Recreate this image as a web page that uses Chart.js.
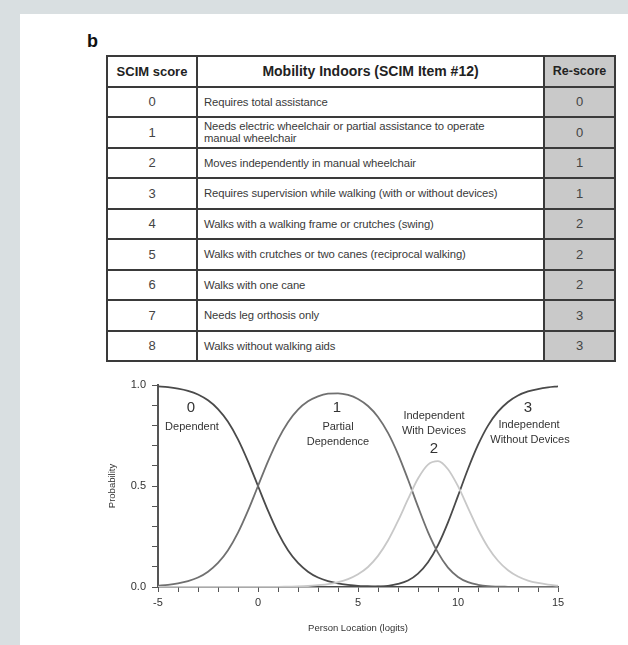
<!DOCTYPE html>
<html>
<head>
<meta charset="utf-8">
<script src="https://cdn.jsdelivr.net/npm/chart.js@4"></script>
<style>
    html, body { margin: 0; padding: 0; }
    body { width: 628px; height: 645px; background: #d9dfe1; position: relative; overflow: hidden;
           font-family: 'Liberation Sans', Arial, sans-serif; }
    #panel { position: absolute; left: 20px; top: 14px; right: 0; bottom: 0; background: #fff; }
    #tag { position: absolute; left: 87px; top: 31px; font-size: 18px; font-weight: bold; color: #111; }
    table { position: absolute; left: 106px; top: 55px; width: 508px; border-collapse: collapse; table-layout: fixed; }
    th, td { border: 2px solid #3a3a3a; padding: 0; }
    tr { height: 30.5px; }
    th { font-size: 13px; color: #222; }
    td.score { text-align: center; font-size: 13px; color: #444; }
    td.desc  { font-size: 11.3px; color: #3a3a3a; padding-left: 6px; line-height: 12px; letter-spacing: -0.1px; }
    .rs { background: #c9c9c9; text-align: center; font-size: 13px; color: #444; }
    th.rs { font-size: 12.5px; color: #222; }
    #chart { position: absolute; left: 90px; top: 370px; }
</style>
</head>
<body>
<div id="panel"></div>
<div id="tag">b</div>
<table>
    <colgroup><col style="width:90px"><col style="width:347px"><col style="width:71px"></colgroup>
    <thead>
        <tr><th>SCIM score</th><th style="font-size:14px">Mobility Indoors (SCIM Item #12)</th><th class="rs">Re-score</th></tr>
    </thead>
    <tbody id="rows"></tbody>
</table>
<canvas id="chart" width="500" height="270"></canvas>

<script>
// ─── 表のデータ ───
const scimScores = [0, 1, 2, 3, 4, 5, 6, 7, 8];
const descriptions = [
    'Requires total assistance',
    'Needs electric wheelchair or partial assistance to operate<br>manual wheelchair',
    'Moves independently in manual wheelchair',
    'Requires supervision while walking (with or without devices)',
    'Walks with a walking frame or crutches (swing)',
    'Walks with crutches or two canes (reciprocal walking)',
    'Walks with one cane',
    'Needs leg orthosis only',
    'Walks without walking aids',
];
const reScores = [0, 0, 1, 1, 2, 2, 2, 3, 3];

// ─── グラフのデータ ───
const logits = [-5, -4.5, -4, -3.5, -3, -2.5, -2, -1.5, -1, -0.5, 0, 0.5, 1, 1.5, 2, 2.5, 3, 3.5, 4, 4.5,
                5, 5.5, 6, 6.5, 7, 7.5, 8, 8.5, 9, 9.5, 10, 10.5, 11, 11.5, 12, 12.5, 13, 13.5, 14, 14.5, 15];
const pDependent = [0.993, 0.989, 0.982, 0.971, 0.953, 0.924, 0.881, 0.818, 0.731, 0.622, 0.5, 0.378, 0.269, 0.182,
                    0.119, 0.076, 0.047, 0.029, 0.018, 0.011, 0.006, 0.004, 0.002, 0.001, 0.001, 0, 0, 0, 0, 0,
                    0, 0, 0, 0, 0, 0, 0, 0, 0, 0, 0];
const pPartial = [0.007, 0.011, 0.018, 0.029, 0.047, 0.076, 0.119, 0.182, 0.269, 0.378, 0.5, 0.622, 0.730, 0.816,
                  0.878, 0.919, 0.944, 0.957, 0.959, 0.951, 0.931, 0.896, 0.842, 0.763, 0.658, 0.532, 0.398, 0.272,
                  0.170, 0.096, 0.050, 0.024, 0.011, 0.004, 0.002, 0.001, 0, 0, 0, 0, 0];
const pWithDevices = [0, 0, 0, 0, 0, 0, 0, 0, 0, 0, 0, 0.001, 0.001, 0.002, 0.003, 0.005, 0.009, 0.014, 0.024,
                      0.039, 0.063, 0.099, 0.154, 0.230, 0.327, 0.435, 0.537, 0.606, 0.623, 0.583, 0.499, 0.392,
                      0.286, 0.197, 0.130, 0.083, 0.052, 0.032, 0.020, 0.012, 0.007];
const pWithoutDevices = [0, 0, 0, 0, 0, 0, 0, 0, 0, 0, 0, 0, 0, 0, 0, 0, 0, 0, 0, 0, 0, 0.001, 0.003, 0.006,
                         0.015, 0.032, 0.066, 0.122, 0.207, 0.320, 0.451, 0.584, 0.703, 0.799, 0.868, 0.916,
                         0.948, 0.968, 0.980, 0.988, 0.993];

// 曲線のラベル（データ座標）
const curveLabels = [
    { x: -3.35, y: 0.886, text: '0', size: 15 },
    { x: -3.3,  y: 0.79,  text: 'Dependent', size: 11 },
    { x: 3.95,  y: 0.886, text: '1', size: 15 },
    { x: 4.0,   y: 0.79,  text: 'Partial', size: 11 },
    { x: 4.0,   y: 0.72,  text: 'Dependence', size: 11 },
    { x: 8.8,   y: 0.847, text: 'Independent', size: 11 },
    { x: 8.8,   y: 0.774, text: 'With Devices', size: 11 },
    { x: 8.8,   y: 0.683, text: '2', size: 15 },
    { x: 13.5,  y: 0.888, text: '3', size: 15 },
    { x: 13.55, y: 0.80,  text: 'Independent', size: 11 },
    { x: 13.6,  y: 0.728, text: 'Without Devices', size: 11 },
];

// ─── 表の生成 ───
const tbody = document.getElementById('rows');
scimScores.forEach((s, i) => {
    const tr = document.createElement('tr');
    tr.innerHTML = `<td class="score">${s}</td><td class="desc">${descriptions[i]}</td><td class="rs">${reScores[i]}</td>`;
    tbody.appendChild(tr);
});

// ─── ラベル描画プラグイン ───
const labelPlugin = {
    id: 'curveLabels',
    afterDatasetsDraw(chart) {
        const { ctx, scales: { x, y } } = chart;
        ctx.save();
        ctx.fillStyle = '#333';
        ctx.textAlign = 'center';
        ctx.textBaseline = 'middle';
        curveLabels.forEach(l => {
            ctx.font = `${l.size}px 'Liberation Sans', Arial, sans-serif`;
            ctx.fillText(l.text, x.getPixelForValue(l.x), y.getPixelForValue(l.y));
        });
        ctx.restore();
    },
};

const toPoints = (ys) => logits.map((v, i) => ({ x: v, y: ys[i] }));
const lineStyle = (color) => ({
    borderColor: color, borderWidth: 1.8, pointRadius: 0, fill: false,
    cubicInterpolationMode: 'monotone',
});

const tickFont = { family: "'Liberation Sans', Arial, sans-serif", size: 11 };

new Chart(document.getElementById('chart').getContext('2d'), {
    type: 'line',
    data: {
        datasets: [
            { data: toPoints(pWithDevices),    ...lineStyle('#c8c8c8') },
            { data: toPoints(pPartial),        ...lineStyle('#707070') },
            { data: toPoints(pDependent),      ...lineStyle('#4a4a4a') },
            { data: toPoints(pWithoutDevices), ...lineStyle('#4a4a4a') },
        ],
    },
    options: {
        responsive: false,
        animation: false,
        devicePixelRatio: 1,
        layout: { padding: { top: 15, right: 32, left: 0, bottom: 0 } },
        plugins: { legend: { display: false }, tooltip: { enabled: false } },
        scales: {
            x: {
                type: 'linear', min: -5, max: 15,
                afterFit: (s) => { s.height = 53; },
                border: { color: '#555', width: 1.5 },
                grid: { drawOnChartArea: false, tickLength: 5, tickColor: '#555' },
                ticks: {
                    stepSize: 1, autoSkip: false, maxRotation: 0, padding: 4,
                    color: '#333', font: tickFont,
                    callback: (v) => (Math.round(v) % 5 === 0 ? String(v) : ''),
                },
                title: { display: true, text: 'Person Location (logits)', color: '#333',
                         font: { family: tickFont.family, size: 9.5 }, padding: { top: 6, bottom: 6 } },
            },
            y: {
                min: 0, max: 1,
                afterFit: (s) => { s.width = 68; },
                border: { color: '#555', width: 2 },
                grid: { drawOnChartArea: false, tickLength: 6, tickColor: '#555' },
                ticks: {
                    stepSize: 0.1, autoSkip: false, padding: 6,
                    color: '#333', font: tickFont,
                    callback: (v) => (Math.round(v * 10) % 5 === 0 ? v.toFixed(1) : ''),
                },
                title: { display: true, text: 'Probability', color: '#333',
                         font: { family: tickFont.family, size: 9.5 }, padding: { top: 17, bottom: 0 } },
            },
        },
    },
    plugins: [labelPlugin],
});
</script>
</body>
</html>
